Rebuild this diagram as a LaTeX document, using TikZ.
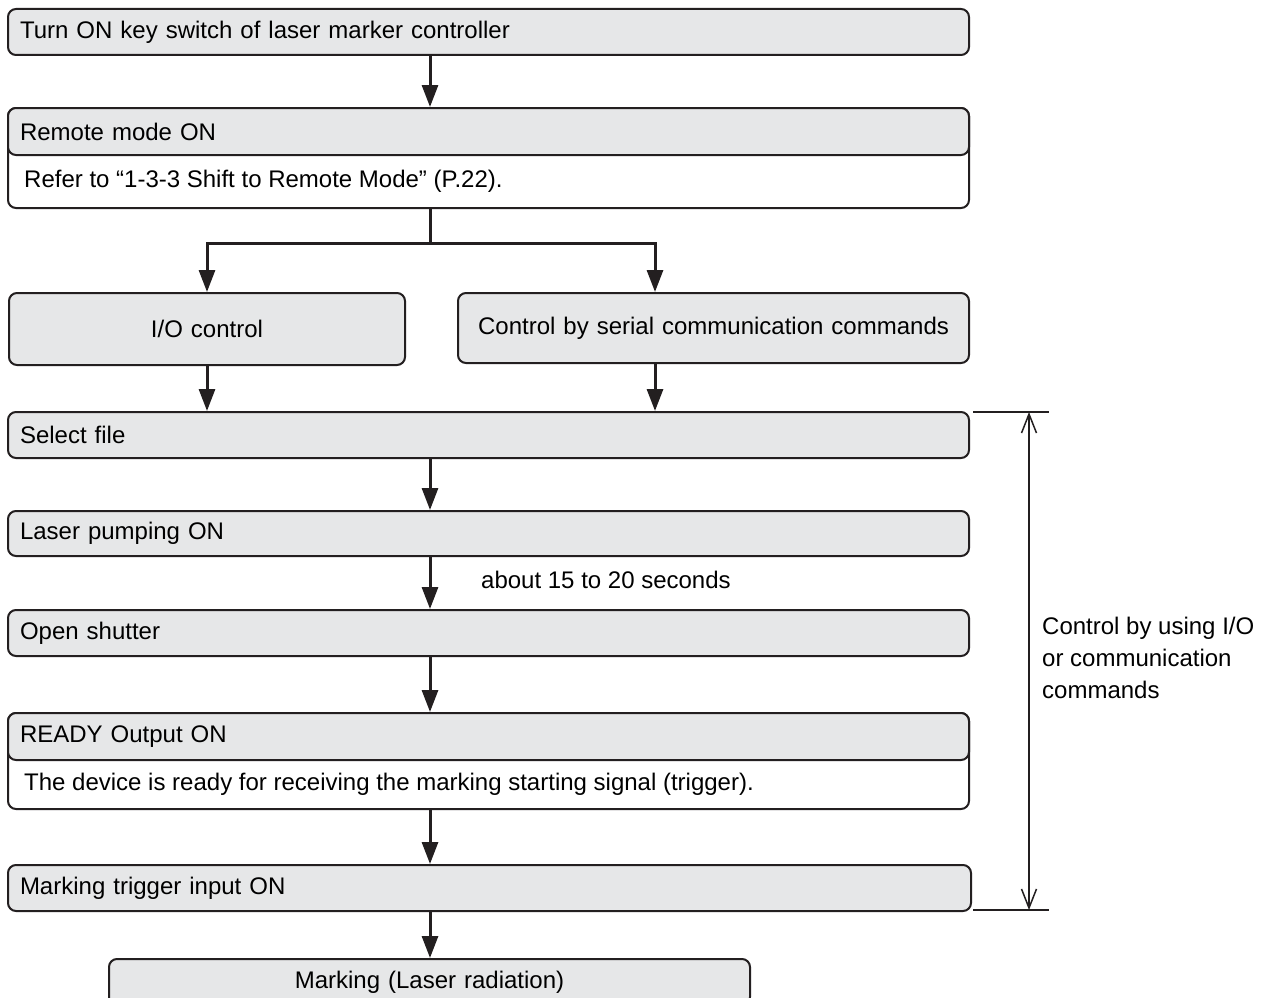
\documentclass[tikz,border=0pt]{standalone}
\usepackage{fontspec}
\setmainfont{Liberation Sans}
\usetikzlibrary{arrows.meta}
\definecolor{boxgray}{HTML}{E6E7E8}
\definecolor{ink}{HTML}{231F20}
\tikzset{
  box/.style={draw=ink, line width=2pt, fill=boxgray, rounded corners=8pt, anchor=north west,
    inner xsep=12pt, inner ysep=0pt, align=left, font=\fontsize{24}{28}\selectfont},
  wbox/.style={box, fill=white},
  ctext/.style={align=center},
  plain/.style={inner sep=0pt, font=\fontsize{24}{28}\selectfont},
  flow/.style={draw=ink, line width=3pt},
  arr/.style={flow, -{Triangle[length=22pt,width=16pt]}},
  dimline/.style={draw=ink, line width=1.5pt},
  dimarr/.style={dimline, {Straight Barb[length=19pt,width=15pt]}-{Straight Barb[length=19pt,width=15pt]}}
}
\begin{document}
\begin{tikzpicture}[x=1pt,y=-1pt]
\clip (0,0) rectangle (1261,998);
\fill[white] (0,0) rectangle (1261,998);
% boxes
\node[box, minimum width=961pt, minimum height=46pt, text width=937pt] (b1) at (7,8) {Turn ON key switch of laser marker controller};
\node[wbox, minimum width=961pt, minimum height=100pt, text width=937pt] (b2) at (7,107) {};
\node[box, minimum width=961pt, minimum height=47pt, text width=937pt] (b2h) at (7,107) {Remote mode ON};
\node[plain, anchor=west] (b2t) at (24,181) {Refer to “1-3-3 Shift to Remote Mode” (P.22).};
\node[box, ctext, minimum width=396pt, minimum height=72pt, text width=372pt] (io) at (8,292) {I/O control};
\node[box, ctext, minimum width=511pt, minimum height=70pt, text width=487pt] (ser) at (457,292) {Control by serial communication commands};
\node[box, minimum width=961pt, minimum height=46pt, text width=937pt] (sel) at (7,411) {Select file};
\node[box, minimum width=961pt, minimum height=45pt, text width=937pt] (pump) at (7,510) {Laser pumping ON};
\node[box, minimum width=961pt, minimum height=46pt, text width=937pt] (shut) at (7,609) {Open shutter};
\node[wbox, minimum width=961pt, minimum height=96pt, text width=937pt] (rdy) at (7,712) {};
\node[box, minimum width=961pt, minimum height=47pt, text width=937pt] (rdyh) at (7,712) {READY Output ON};
\node[plain, anchor=west] (rdyt) at (24,784) {The device is ready for receiving the marking starting signal (trigger).};
\node[box, minimum width=963pt, minimum height=46pt, text width=939pt] (trig) at (7,864) {Marking trigger input ON};
\node[box, ctext, minimum width=641pt, minimum height=46pt, text width=617pt] (mark) at (108,958) {Marking (Laser radiation)};
% connectors
\coordinate (cx) at (430,0);
\coordinate (cr) at (655,0);
\coordinate (split) at (430,243);
\draw[arr] (cx |- b1.south) -- (cx |- b2.north);
\draw[flow] (cx |- b2.south) -- (split);
\draw[arr] (split) -| (io.north);
\draw[arr] (split) -| (cr |- ser.north);
\draw[arr] (io.south) -- (io.south |- sel.north);
\draw[arr] (cr |- ser.south) -- (cr |- sel.north);
\draw[arr] (cx |- sel.south) -- (cx |- pump.north);
\draw[arr] (cx |- pump.south) -- (cx |- shut.north);
\node[plain, anchor=west] (wait) at (481,580) {about 15 to 20 seconds};
\draw[arr] (cx |- shut.south) -- (cx |- rdy.north);
\draw[arr] (cx |- rdy.south) -- (cx |- trig.north);
\draw[arr] (cx |- trig.south) -- (cx |- mark.north);
% dimension
\coordinate (dtl) at (973,412);
\coordinate (dtr) at (1049,412);
\coordinate (dbl) at (973,910);
\coordinate (dbr) at (1049,910);
\coordinate (dt) at (1029,412);
\coordinate (db) at (1029,910);
\draw[dimline] (dtl) -- (dtr);
\draw[dimline] (dbl) -- (dbr);
\draw[dimarr] (dt) -- (db);
\node[plain, anchor=north west, align=left, font=\fontsize{24}{32}\selectfont] (dlab) at (1042,617) {Control by using I/O\\or communication\\commands};
\end{tikzpicture}
\end{document}
